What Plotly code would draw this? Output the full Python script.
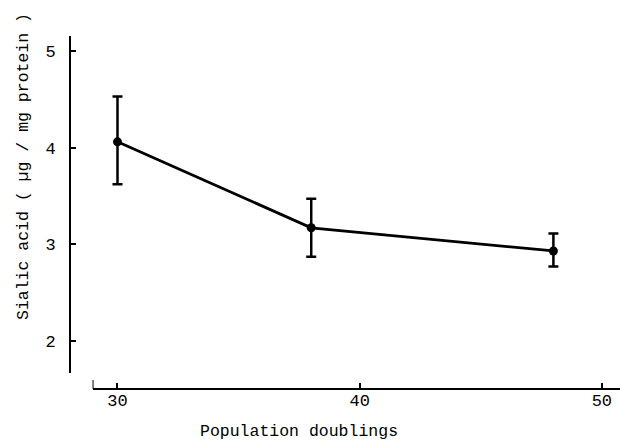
import plotly.graph_objects as go

# Data
doublings = [30, 38, 48]
sialic = [4.06, 3.17, 2.93]
err_plus = [0.47, 0.30, 0.18]
err_minus = [0.44, 0.30, 0.16]
x_ticks = [30, 40, 50]
y_ticks = [2, 3, 4, 5]
x_title = "Population doublings"
y_title = "Sialic acid ( µg / mg protein )"

FONT = "Liberation Mono, Courier New, monospace"

fig = go.Figure()
fig.add_trace(go.Scatter(
    x=doublings, y=sialic, mode="lines+markers",
    line=dict(color="black", width=2.8),
    marker=dict(color="black", size=9),
    error_y=dict(type="data", symmetric=False, array=err_plus, arrayminus=err_minus,
                 color="black", thickness=2.5, width=5),
    cliponaxis=False, hoverinfo="skip", showlegend=False,
))

fig.update_layout(
    width=620, height=441,
    margin=dict(l=70, r=0, t=36, b=52, autoexpand=False),
    paper_bgcolor="white", plot_bgcolor="white",
    font=dict(family=FONT, size=17, color="black"),
    xaxis=dict(domain=[0.041, 1], anchor="free", position=0, automargin=False,
               range=[28.97, 50.75], tickvals=x_ticks,
               showline=True, linecolor="black", linewidth=2,
               ticks="inside", ticklen=5, tickwidth=2, tickcolor="black",
               showgrid=False, zeroline=False, ticklabelstandoff=-4),
    yaxis=dict(domain=[0.045, 1], anchor="free", position=0, automargin=False,
               range=[1.665, 5.156], tickvals=y_ticks,
               showline=True, linecolor="black", linewidth=2,
               ticks="inside", ticklen=5, tickwidth=2, tickcolor="black",
               showgrid=False, zeroline=False, ticklabelstandoff=10),
    annotations=[
        dict(text=x_title, xref="paper", yref="paper", x=(299-70)/550, y=-(431-389)/353,
             xanchor="center", yanchor="middle", showarrow=False,
             font=dict(family=FONT, size=16.5)),
        dict(text=y_title, xref="paper", yref="paper", x=-(70-23)/550, y=(389-167)/353,
             xanchor="center", yanchor="middle", showarrow=False, textangle=-90,
             font=dict(family=FONT, size=16.5)),
    ],
)
# small upturned end at the left of the x axis
fig.add_shape(type="line", xref="x", yref="paper", x0=28.97, x1=28.97,
              y0=0, y1=(389-380)/353, line=dict(color="black", width=2))

fig.write_html("out.html", config={"displayModeBar": False, "staticPlot": True},
               post_script="document.body.style.margin='0';document.body.style.overflow='hidden';")
